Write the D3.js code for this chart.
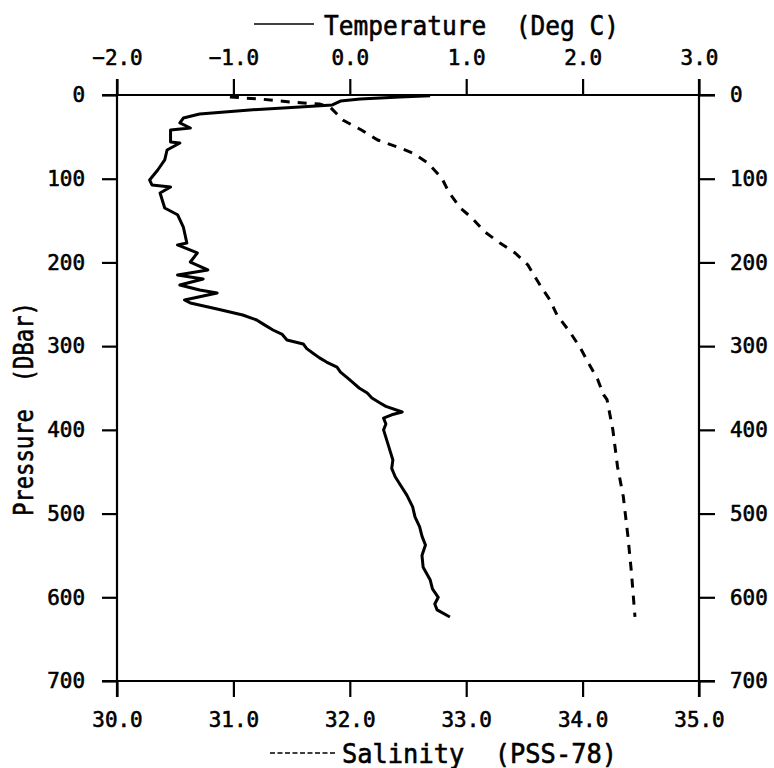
<!DOCTYPE html>
<html><head><meta charset="utf-8">
<script src="https://cdn.jsdelivr.net/npm/d3@7"></script>
<style>body{margin:0;background:#fff}svg{display:block}text{font-family:"DejaVu Sans Mono",monospace;fill:#000;white-space:pre;stroke:#000;stroke-width:0.6px}</style>
</head><body><svg id="c" width="774" height="768"></svg>
<script>
const tempTicks = [-2, -1, 0, 1, 2, 3];
const salTicks = [30, 31, 32, 33, 34, 35];
const presTicks = [0, 100, 200, 300, 400, 500, 600, 700];

// Temperature profile
const tempPressure = [1,2.4,4.8,7.2,11.9,14.3,17.9,22.7,27.5,33.4,39.4,41.8,56.1,57.3,65.7,77.6,89.6,101.5,107.5,109.9,117,135,143,157.7,176.8,179,188.7,199.5,209,215,219.8,227,233,236.5,244.9,248.5,255.6,262.8,268.8,274,280.7,286,292.7,297.4,303,309,314,319,325,331,338,344,350,356,362,368,372,378.7,382,386,393,400,418,436,446,456,467,478,492,504,516,527,537.5,550,564,579,590,600,608,615,623.5];
const tempValues = [0.69,0.43,0.09,-0.08,-0.15,-0.43,-0.86,-1.29,-1.43,-1.46,-1.37,-1.54,-1.54,-1.46,-1.57,-1.59,-1.65,-1.72,-1.70,-1.54,-1.63,-1.59,-1.48,-1.43,-1.40,-1.48,-1.31,-1.37,-1.22,-1.48,-1.26,-1.46,-1.29,-1.14,-1.42,-1.37,-1.14,-0.92,-0.80,-0.74,-0.66,-0.58,-0.54,-0.40,-0.37,-0.31,-0.26,-0.20,-0.11,-0.08,-0.02,0.03,0.08,0.15,0.19,0.26,0.31,0.45,0.36,0.29,0.31,0.29,0.33,0.37,0.36,0.39,0.44,0.49,0.54,0.56,0.60,0.62,0.65,0.62,0.63,0.69,0.71,0.76,0.73,0.75,0.86];

// Salinity profile
const salPressure = [2.4,4.8,8.4,10.8,14.3,29.9,41.8,53.8,62.1,69.3,81.2,99.1,115.9,135,147,163.6,176.8,188.7,203,217,230.5,244.9,262.8,283,302,320,340,358,364,400,444,480,528,571,623.5];
const salValues = [30.97,31.23,31.49,31.74,31.83,31.94,32.10,32.24,32.41,32.54,32.67,32.79,32.85,32.95,33.05,33.16,33.29,33.42,33.53,33.59,33.65,33.72,33.78,33.89,33.98,34.05,34.13,34.18,34.21,34.26,34.30,34.35,34.39,34.42,34.45];

const L = 117, R = 699, T = 95, B = 681;
const xT = d3.scaleLinear().domain([-2, 3]).range([L, R]);
const xS = d3.scaleLinear().domain([30, 35]).range([L, R]);
const y = d3.scaleLinear().domain([0, 700]).range([T, B]);

const svg = d3.select("#c");
const g = svg.append("g");

// frame lines
g.append("line").attr("x1",L-15).attr("x2",R+16).attr("y1",T).attr("y2",T).attr("stroke","#000").attr("stroke-width",2.2);
g.append("line").attr("x1",L-15).attr("x2",R+16).attr("y1",B).attr("y2",B).attr("stroke","#000").attr("stroke-width",2.2);
g.append("line").attr("x1",L).attr("x2",L).attr("y1",T-16).attr("y2",B+16).attr("stroke","#000").attr("stroke-width",2.2);
g.append("line").attr("x1",R).attr("x2",R).attr("y1",T-16).attr("y2",B+16).attr("stroke","#000").attr("stroke-width",2.2);

const fmt = d3.format(".1f");
const topAx = d3.axisTop(xT).tickValues(tempTicks).tickSize(16).tickPadding(14).tickFormat(fmt);
const botAx = d3.axisBottom(xS).tickValues(salTicks).tickSize(16).tickPadding(15).tickFormat(fmt);
const leftAx = d3.axisLeft(y).tickValues(presTicks).tickSize(15).tickPadding(17).tickFormat(d3.format("d"));
const rightAx = d3.axisRight(y).tickValues(presTicks).tickSize(16).tickPadding(15).tickFormat(d3.format("d"));
function style(sel){
  sel.select(".domain").remove();
  sel.selectAll(".tick line").attr("stroke","#000").attr("stroke-width",2.2);
  sel.selectAll(".tick text").style("font-family",'"DejaVu Sans Mono",monospace').style("font-size","21px").attr("fill","#000")
    .attr("textLength", function(){ return this.textContent.length * 12.6; })
    .attr("lengthAdjust","spacingAndGlyphs");
}
g.append("g").attr("transform",`translate(0,${T})`).call(topAx).call(style);
g.append("g").attr("transform",`translate(0,${B})`).call(botAx).call(style);
g.append("g").attr("transform",`translate(${L},0)`).call(leftAx).call(style);
g.append("g").attr("transform",`translate(${R},0)`).call(rightAx).call(style);

const tempData = tempPressure.map((p,i)=>({p, v: tempValues[i]}));
const salData = salPressure.map((p,i)=>({p, v: salValues[i]}));
g.append("path").datum(tempData)
  .attr("d", d3.line().x(d=>xT(d.v)).y(d=>y(d.p)))
  .attr("fill","none").attr("stroke","#000").attr("stroke-width",3).attr("stroke-linejoin","round");
g.append("path").datum(salData)
  .attr("d", d3.line().x(d=>xS(d.v)).y(d=>y(d.p)))
  .attr("fill","none").attr("stroke","#000").attr("stroke-width",3).attr("stroke-dasharray","9,8");

// titles
g.append("line").attr("x1",254).attr("x2",314).attr("y1",24).attr("y2",24).attr("stroke","#000").attr("stroke-width",1.5);
g.append("text").attr("x",324).attr("y",35).style("font-size","27px")
  .attr("textLength",295).attr("lengthAdjust","spacingAndGlyphs").text("Temperature  (Deg C)");
g.append("line").attr("x1",270).attr("x2",337).attr("y1",753).attr("y2",753).attr("stroke","#000").attr("stroke-width",1.5).attr("stroke-dasharray","5,2.5");
g.append("text").attr("x",342).attr("y",763).style("font-size","27px")
  .attr("textLength",275).attr("lengthAdjust","spacingAndGlyphs").text("Salinity  (PSS-78)");
g.append("text").attr("transform","translate(33,516) rotate(-90)").style("font-size","27px")
  .attr("textLength",214).attr("lengthAdjust","spacingAndGlyphs").text("Pressure  (DBar)");
</script></body></html>
